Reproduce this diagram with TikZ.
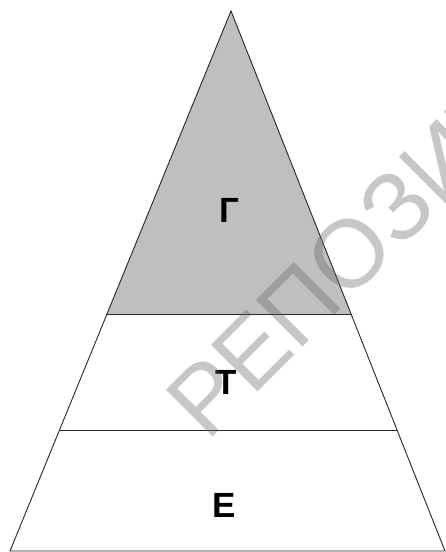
\documentclass[tikz,border=0pt]{standalone}
\usepackage{fontspec}
\setmainfont{Liberation Sans}
\usetikzlibrary{calc}
\begin{document}
\begin{tikzpicture}[x=1pt,y=1pt,
  edge/.style={draw=black!85, line width=0.9pt},
  lvl/.style={font=\fontsize{35}{40}\selectfont\bfseries, inner sep=0pt, text=black},
  wmark/.style={font=\fontsize{96}{110}\selectfont, text=black!60, text opacity=0.36, inner sep=0pt, rotate=45, anchor=base west}]
\useasboundingbox (0,0) rectangle (446,552);
\clip (0,0) rectangle (446,552);
\fill[white] (0,0) rectangle (446,552);
% vertices
\coordinate (apex) at (231,541);
\coordinate (bl) at (10,1);
\coordinate (br) at (445,1);
\coordinate (l1) at ($(apex)!0.5611!(bl)$);
\coordinate (r1) at ($(apex)!0.5611!(br)$);
\coordinate (l2) at ($(apex)!0.7759!(bl)$);
\coordinate (r2) at ($(apex)!0.7759!(br)$);
\fill[black!25] (apex) -- (l1) -- (r1) -- cycle;
\draw[edge] (apex) -- (bl) -- (br) -- cycle;
\draw[edge] (l1) -- (r1);
\draw[edge] (l2) -- (r2);
\node[lvl] (g) at (229,341.5) {Г};
\node[lvl] (t) at (226.5,169.5) {Т};
\node[lvl] (e) at (224,47) {Е};
\node[wmark] (wm) at (207,109) {РЕПОЗИТОРИЙ};
\end{tikzpicture}
\end{document}
